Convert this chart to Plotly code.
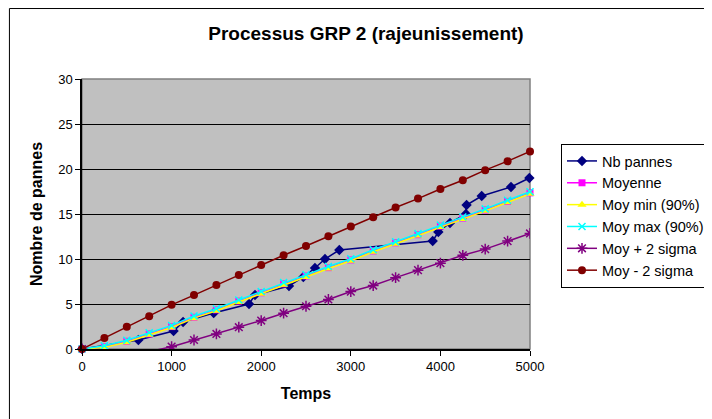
import plotly.graph_objects as go

# ---- data ----
t_grid = [0, 250, 500, 750, 1000, 1250, 1500, 1750, 2000, 2250, 2500,
          2750, 3000, 3250, 3500, 3750, 4000, 4250, 4500, 4750, 5000]

t_pannes = [0, 629, 1022, 1128, 1470, 1864, 1931, 2310, 2470, 2600,
            2712, 2872, 3914, 3977, 4107, 4285, 4292, 4461, 4788, 4993]
nb_pannes = [0, 1, 2, 3, 4, 5, 6, 7, 8, 9, 10, 11, 12, 13, 14, 15, 16, 17, 18, 19]

moyenne = [0, 0.26, 0.86, 1.67, 2.49, 3.53, 4.35, 5.32, 6.25, 7.25, 8.11,
           9.04, 9.9, 10.9, 11.8, 12.7, 13.65, 14.55, 15.45, 16.4, 17.35]
moy_min = [0, 0.18, 0.76, 1.57, 2.39, 3.43, 4.25, 5.22, 6.15, 7.15, 8.01,
           8.94, 9.8, 10.8, 11.7, 12.6, 13.55, 14.45, 15.35, 16.3, 17.25]
moy_max = [0, 0.36, 0.98, 1.8, 2.62, 3.66, 4.48, 5.45, 6.38, 7.38, 8.24,
           9.17, 10.02, 11.02, 11.92, 12.82, 13.77, 14.67, 15.57, 16.52, 17.47]
moy_plus_2s = [0, -0.7, -0.75, -0.3, 0.26, 1.0, 1.67, 2.42, 3.16, 3.98, 4.75,
               5.5, 6.38, 7.05, 7.93, 8.76, 9.54, 10.41, 11.1, 11.99, 12.84]
moy_moins_2s = [0, 1.23, 2.46, 3.65, 4.91, 5.99, 7.11, 8.22, 9.34, 10.42, 11.44,
                12.52, 13.6, 14.63, 15.72, 16.71, 17.78, 18.75, 19.87, 20.87, 21.95]

x_ticks = [0, 1000, 2000, 3000, 4000, 5000]
y_ticks = [0, 5, 10, 15, 20, 25, 30]

title = "Processus GRP 2 (rajeunissement)"
x_title = "Temps"
y_title = "Nombre de pannes"

FONT = "Liberation Sans, Arial, sans-serif"

fig = go.Figure()

fig.add_trace(go.Scatter(x=t_pannes, y=nb_pannes, name="Nb pannes", mode="lines+markers",
                         line=dict(color="#000080", width=1.5),
                         marker=dict(symbol="diamond", size=8, color="#000080"),
                         cliponaxis=False, legendgroup="a"))
fig.add_trace(go.Scatter(x=t_grid, y=moyenne, name="Moyenne", mode="lines+markers",
                         line=dict(color="#FF00FF", width=1.5),
                         marker=dict(symbol="square", size=7, color="#FF00FF"),
                         cliponaxis=False, legendgroup="b"))
fig.add_trace(go.Scatter(x=t_grid, y=moy_min, name="Moy min (90%)", mode="lines+markers",
                         line=dict(color="#FFFF00", width=1.5),
                         marker=dict(symbol="triangle-up", size=8, color="#FFFF00"),
                         cliponaxis=False, legendgroup="c"))
fig.add_trace(go.Scatter(x=t_grid, y=moy_max, name="Moy max (90%)", mode="lines+markers",
                         line=dict(color="#00FFFF", width=1.5),
                         marker=dict(symbol="x-thin", size=7, color="#00FFFF",
                                     line=dict(width=1.5, color="#00FFFF")),
                         cliponaxis=False, legendgroup="d"))
fig.add_trace(go.Scatter(x=t_grid, y=moy_plus_2s, name="Moy + 2 sigma", mode="lines+markers",
                         line=dict(color="#800080", width=1.5),
                         marker=dict(symbol="asterisk", size=9, color="#800080",
                                     line=dict(width=1.5, color="#800080")),
                         cliponaxis=True, legendgroup="e"))
fig.add_trace(go.Scatter(x=t_grid, y=moy_moins_2s, name="Moy - 2 sigma", mode="lines+markers",
                         line=dict(color="#800000", width=1.5),
                         marker=dict(symbol="circle", size=8, color="#800000"),
                         cliponaxis=False, legendgroup="f"))

# plot area border (gray) and outer chart frame
fig.add_shape(type="rect", xref="paper", yref="paper", x0=0, y0=0, x1=1, y1=1,
              line=dict(color="#808080", width=1.5), layer="below")
fig.add_shape(type="rect", xref="paper", yref="paper", x0=-0.162, y0=-0.3,
              x1=1.45, y1=1.261, line=dict(color="black", width=1))

W, H = 704, 411
L, T, PW, PH = 74, 71, 448, 270

fig.update_layout(
    width=W, height=H,
    margin=dict(l=L, r=W - L - PW, t=T, b=H - T - PH, autoexpand=False),
    paper_bgcolor="white",
    plot_bgcolor="#C0C0C0",
    font=dict(family=FONT, size=13, color="black"),
    title=dict(text="<b>" + title + "</b>", x=358 / W, xanchor="center",
               y=1 - 25 / H, yanchor="middle", font=dict(size=19, family=FONT)),
    showlegend=True,
    legend=dict(x=(561 - 82) / PW, xanchor="left", y=(349 - 144) / PH, yanchor="top",
                bgcolor="white", bordercolor="black", borderwidth=1,
                font=dict(size=14.5, family=FONT), tracegroupgap=0,
                itemwidth=30),
    xaxis=dict(range=[0, 5000], tickvals=x_ticks, showgrid=False, zeroline=False,
               showline=True, linecolor="black", linewidth=1.5,
               ticks="outside", ticklen=5, tickcolor="black",
               tickfont=dict(size=13),
               title=dict(text="<b>" + x_title + "</b>", font=dict(size=16), standoff=14)),
    yaxis=dict(range=[0, 30], tickvals=y_ticks, showgrid=True, gridcolor="black",
               gridwidth=1, zeroline=False,
               showline=True, linecolor="black", linewidth=1.5,
               ticks="outside", ticklen=5, tickcolor="black",
               tickfont=dict(size=13),
               title=dict(text="<b>" + y_title + "</b>", font=dict(size=16), standoff=12)),
)

fig.write_html("out.html")
